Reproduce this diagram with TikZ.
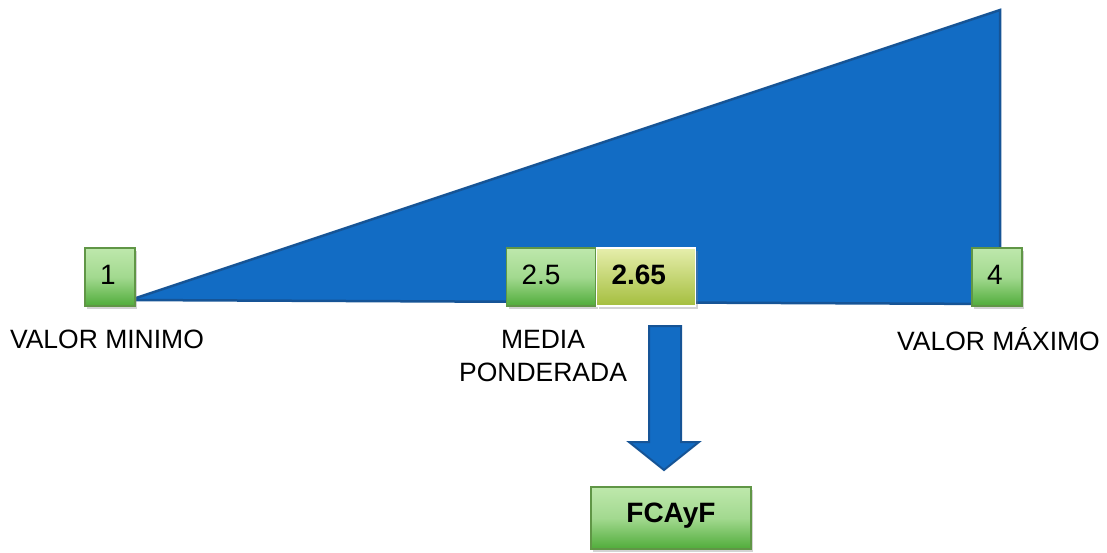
\documentclass[tikz,border=0pt]{standalone}
\usepackage{fontspec}
\setmainfont{Liberation Sans}
\usetikzlibrary{shadows}
\definecolor{triblue}{RGB}{18,108,196}
\definecolor{triedge}{RGB}{22,84,150}
\definecolor{gtop}{RGB}{190,232,172}
\definecolor{gbot}{RGB}{80,172,58}
\definecolor{gedge}{RGB}{96,150,70}
\definecolor{ytop}{RGB}{230,238,172}
\definecolor{ybot}{RGB}{164,190,62}
\tikzset{
  gbox/.style={draw=gedge, line width=1.2pt, top color=gtop, bottom color=gbot, middle color=gtop!75!gbot,
    drop shadow={shadow xshift=2pt, shadow yshift=-3pt, opacity=0.35},
    font=\fontsize{28}{32}\selectfont, inner ysep=0pt, inner xsep=15pt, align=left,
    text height=20pt, text depth=6pt},
  ybox/.style={draw=white, line width=1.5pt, top color=ytop, bottom color=ybot,
    drop shadow={shadow xshift=2pt, shadow yshift=-3pt, opacity=0.35},
    font=\fontsize{28}{32}\selectfont\bfseries, inner ysep=0pt, inner xsep=15pt, align=left,
    text height=20pt, text depth=6pt},
  lbl/.style={font=\fontsize{26.5}{33.5}\selectfont, align=center, inner sep=0pt},
  blockarrow/.style={fill=triblue, draw=triedge, line width=2pt, line join=miter}
}
\begin{document}
\begin{tikzpicture}[x=1pt,y=-1pt]
\useasboundingbox (0,0) rectangle (1107,552);
% triangle
\coordinate (tl) at (130,300);
\coordinate (tt) at (1000,10);
\coordinate (tb) at (1000,304);
\fill[triblue] (tl) -- (tt) -- (tb) -- cycle;
\draw[triedge, line width=2.5pt, line join=miter] (tl) -- (tt) -- (tb) -- cycle;
% boxes
\node[gbox, text width=20pt, minimum height=58pt] (b1) at (110,277) {1};
\node[gbox, text width=59pt, minimum height=58pt] (b25) at (551,277) {2.5};
\node[ybox, text width=69pt, minimum height=58pt] (b265) at (646,277) {2.65};
\node[gbox, text width=20pt, minimum height=58pt] (b4) at (997,277) {4};
% labels
\node[lbl] (lmin) at (107,339) {VALOR MINIMO};
\node[lbl] (lmed) at (543,356) {MEDIA\\PONDERADA};
\node[lbl] (lmax) at (998.5,339) {VALOR MÁXIMO};
% block arrow
\coordinate (a1) at (649,326);
\coordinate (a2) at (681,326);
\coordinate (a3) at (681,442);
\coordinate (a4) at (699,442);
\coordinate (a5) at (664,470);
\coordinate (a6) at (629,442);
\coordinate (a7) at (649,442);
\draw[blockarrow] (a1) -- (a2) -- (a3) -- (a4) -- (a5) -- (a6) -- (a7) -- cycle;
% result
\node[gbox, text width=130pt, align=center, minimum height=62pt, text depth=12pt, font=\fontsize{28}{32}\selectfont\bfseries] (res) at (671,518) {FCAyF};
\end{tikzpicture}
\end{document}
